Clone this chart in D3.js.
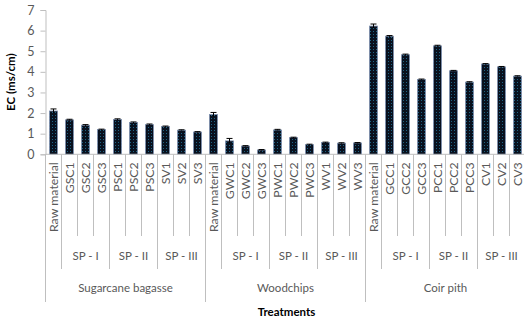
<!DOCTYPE html>
<html>
<head>
<meta charset="utf-8">
<script src="https://cdn.jsdelivr.net/npm/d3@7/dist/d3.min.js"></script>
<style>
  html, body { margin: 0; padding: 0; background: #fff; }
  svg { display: block; font-family: Lato, "Open Sans", sans-serif; }
</style>
</head>
<body>
<svg id="chart" width="524" height="321"></svg>
<script>
// Treatment labels, in plotting order
const treatments = [
  "Raw material", "GSC1", "GSC2", "GSC3", "PSC1", "PSC2", "PSC3", "SV1", "SV2", "SV3",
  "Raw material", "GWC1", "GWC2", "GWC3", "PWC1", "PWC2", "PWC3", "WV1", "WV2", "WV3",
  "Raw material", "GCC1", "GCC2", "GCC3", "PCC1", "PCC2", "PCC3", "CV1", "CV2", "CV3"
];
// Electrical conductivity (ms/cm)
const ecValues = [
  2.10, 1.67, 1.41, 1.20, 1.69, 1.54, 1.44, 1.35, 1.17, 1.08,
  1.93, 0.65, 0.40, 0.21, 1.18, 0.81, 0.47, 0.57, 0.54, 0.55,
  6.22, 5.73, 4.83, 3.63, 5.26, 4.05, 3.50, 4.38, 4.24, 3.79
];
// Standard error of each mean
const ecErrors = [
  0.10, 0.03, 0.03, 0.02, 0.03, 0.03, 0.03, 0.02, 0.02, 0.02,
  0.10, 0.12, 0.02, 0.02, 0.03, 0.02, 0.02, 0.02, 0.02, 0.02,
  0.10, 0.03, 0.03, 0.02, 0.03, 0.02, 0.02, 0.02, 0.02, 0.02
];
// Second level grouping (sieve passes); raw material stands alone
const passGroups = [
  { label: "", start: 0, end: 1 }, { label: "SP - I", start: 1, end: 4 },
  { label: "SP - II", start: 4, end: 7 }, { label: "SP - III", start: 7, end: 10 },
  { label: "", start: 10, end: 11 }, { label: "SP - I", start: 11, end: 14 },
  { label: "SP - II", start: 14, end: 17 }, { label: "SP - III", start: 17, end: 20 },
  { label: "", start: 20, end: 21 }, { label: "SP - I", start: 21, end: 24 },
  { label: "SP - II", start: 24, end: 27 }, { label: "SP - III", start: 27, end: 30 }
];
// Top level grouping (substrates)
const substrates = [
  { label: "Sugarcane bagasse", start: 0, end: 10 },
  { label: "Woodchips", start: 10, end: 20 },
  { label: "Coir pith", start: 20, end: 30 }
];
const yTicks = [0, 1, 2, 3, 4, 5, 6, 7];

const svg = d3.select("#chart");
const plot = { left: 45.5, right: 525.5, top: 10, bottom: 154.3 };
const axisColor = "#bfbfbf";
const textColor = "#595959";

const x = d3.scaleBand().domain(d3.range(treatments.length))
  .range([plot.left, plot.right]).paddingInner(0).paddingOuter(0);
const y = d3.scaleLinear().domain([0, 7]).range([plot.bottom, plot.top]);
const bw = x.bandwidth();
const barW = 8;

// dotted fill for the bars
const defs = svg.append("defs");
const pat = defs.append("pattern").attr("id", "dots")
  .attr("patternUnits", "userSpaceOnUse").attr("width", 3).attr("height", 3);
pat.append("rect").attr("width", 3).attr("height", 3).attr("fill", "#08111f");
pat.append("rect").attr("x", 1).attr("y", 1).attr("width", 1).attr("height", 1).attr("fill", "#1f6384");

// y axis
const yAxis = svg.append("g").attr("transform", `translate(${plot.left},0)`)
  .call(d3.axisLeft(y).tickValues(yTicks).tickSize(5).tickPadding(6).tickFormat(d3.format("d")));
yAxis.select(".domain").attr("stroke", axisColor);
yAxis.selectAll(".tick line").attr("stroke", axisColor);
yAxis.selectAll(".tick text").attr("fill", textColor).attr("font-size", 12.5)
  .attr("font-family", "Lato, sans-serif");

// bars
svg.append("g").selectAll("rect").data(ecValues).join("rect")
  .attr("x", (d, i) => x(i) + (bw - barW) / 2)
  .attr("y", d => y(d))
  .attr("width", barW)
  .attr("height", d => y(0) - y(d))
  .attr("fill", "url(#dots)")
  .attr("stroke", "#7d90b0").attr("stroke-width", 0.8);

// error bars
const eg = svg.append("g").attr("stroke", "#000").attr("stroke-width", 1);
ecValues.forEach((v, i) => {
  const cx = x(i) + bw / 2;
  eg.append("line").attr("x1", cx).attr("x2", cx).attr("y1", y(v - ecErrors[i])).attr("y2", y(v + ecErrors[i]));
  eg.append("line").attr("x1", cx - 3).attr("x2", cx + 3).attr("y1", y(v + ecErrors[i])).attr("y2", y(v + ecErrors[i]));
});

// x axis baseline
svg.append("line").attr("x1", plot.left).attr("x2", plot.right)
  .attr("y1", y(0)).attr("y2", y(0)).attr("stroke", axisColor);

// multi-level category separators
const lvl1 = 236, lvl2 = 269, lvl3 = 302;
const sepY = new Array(treatments.length + 1).fill(lvl1);
passGroups.forEach(g => { sepY[g.start] = Math.max(sepY[g.start], lvl2); sepY[g.end] = Math.max(sepY[g.end], lvl2); });
substrates.forEach(g => { sepY[g.start] = lvl3; sepY[g.end] = lvl3; });
const edgeX = i => (i < treatments.length ? x(i) : plot.right);
svg.append("g").selectAll("line").data(sepY).join("line")
  .attr("x1", (d, i) => edgeX(i)).attr("x2", (d, i) => edgeX(i))
  .attr("y1", y(0)).attr("y2", d => d)
  .attr("stroke", axisColor).attr("stroke-width", 1);

// treatment labels (rotated)
svg.append("g").selectAll("text").data(treatments).join("text")
  .attr("transform", (d, i) => `translate(${x(i) + bw / 2 + 4.8},${y(0) + 8}) rotate(-90)`)
  .attr("text-anchor", "end")
  .attr("fill", textColor).attr("font-size", 12.3)
  .text(d => d);

// sieve pass labels
svg.append("g").selectAll("text").data(passGroups.filter(g => g.label)).join("text")
  .attr("x", g => (edgeX(g.start) + edgeX(g.end)) / 2)
  .attr("y", 260)
  .attr("text-anchor", "middle").attr("fill", textColor).attr("font-size", 11.5)
  .text(g => g.label);

// substrate labels
svg.append("g").selectAll("text").data(substrates).join("text")
  .attr("x", g => (edgeX(g.start) + edgeX(g.end)) / 2)
  .attr("y", 292)
  .attr("text-anchor", "middle").attr("fill", textColor).attr("font-size", 11.5)
  .text(g => g.label);

// axis titles
svg.append("text").attr("x", (plot.left + plot.right) / 2 + 1).attr("y", 316)
  .attr("text-anchor", "middle").attr("font-weight", "bold").attr("font-size", 11.5)
  .attr("fill", "#000").text("Treatments");
svg.append("text").attr("transform", `translate(15,${(plot.top + plot.bottom) / 2}) rotate(-90)`)
  .attr("text-anchor", "middle").attr("font-weight", "bold").attr("font-size", 11.5)
  .attr("fill", "#000").text("EC (ms/cm)");
</script>
</body>
</html>
